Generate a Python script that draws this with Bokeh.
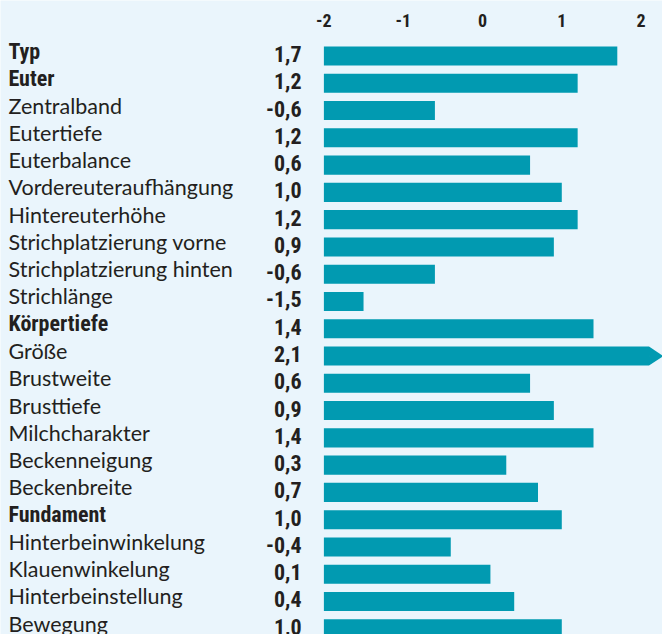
from bokeh.plotting import figure
from bokeh.models import Range1d, ColumnDataSource
from bokeh.core.properties import value
from bokeh.embed import file_html
from bokeh.resources import INLINE

traits = ["Typ", "Euter", "Zentralband", "Eutertiefe", "Euterbalance",
          "Vordereuteraufhängung", "Hintereuterhöhe", "Strichplatzierung vorne",
          "Strichplatzierung hinten", "Strichlänge", "Körpertiefe", "Größe",
          "Brustweite", "Brusttiefe", "Milchcharakter", "Beckenneigung",
          "Beckenbreite", "Fundament", "Hinterbeinwinkelung", "Klauenwinkelung",
          "Hinterbeinstellung", "Bewegung"]
scores = [1.7, 1.2, -0.6, 1.2, 0.6, 1.0, 1.2, 0.9, -0.6, -1.5, 1.4, 2.1,
          0.6, 0.9, 1.4, 0.3, 0.7, 1.0, -0.4, 0.1, 0.4, 1.0]
bold_traits = ["Typ", "Euter", "Körpertiefe", "Fundament"]
tick_values = [-2, -1, 0, 1, 2]
tick_labels = ["-2", "-1", "0", "1", "2"]

BG = "#eaf5fc"
BAR = "#019ab1"
INK = "#231f20"
COND = "'Noto Sans Condensed', 'Roboto Condensed', 'DejaVu Sans Condensed', 'Liberation Sans Narrow', Roboto"
REG = "Lato"

AX_MIN, AX_MAX = -2.0, 2.0
X0, X1 = -6.078, 2.270
LABEL_X = -5.977
VALUE_X = -2.282

idx = list(range(len(traits)))
fmt = [f"{v:.1f}".replace(".", ",") for v in scores]
is_bold = [t in bold_traits for t in traits]

p = figure(width=662, height=634, x_range=Range1d(X0, X1),
           y_range=Range1d(21.21, -2.035), output_backend="svg",
           toolbar_location=None, min_border=0)
p.axis.visible = False
p.grid.visible = False
p.outline_line_color = None
p.background_fill_color = BG
p.border_fill_color = BG

p.hbar(y=idx, left=AX_MIN, right=scores, height=0.7, fill_color=BAR, line_color=None)

# overflow arrows for values beyond the axis maximum
ax_x, ax_y = [], []
for i, v in zip(idx, scores):
    if v > AX_MAX:
        ax_x.append([v, v + 0.18, v])
        ax_y.append([i - 0.35, i, i + 0.35])
if ax_x:
    p.patches(xs=ax_x, ys=ax_y, fill_color=BAR, line_color=None)

reg = ColumnDataSource(dict(x=[LABEL_X] * sum(not b for b in is_bold),
                            y=[i for i, b in zip(idx, is_bold) if not b],
                            t=[t for t, b in zip(traits, is_bold) if not b]))
bld = ColumnDataSource(dict(x=[LABEL_X] * sum(is_bold),
                            y=[i for i, b in zip(idx, is_bold) if b],
                            t=[t for t, b in zip(traits, is_bold) if b]))
p.text(x="x", y="y", text="t", source=reg, text_font=value(REG),
       text_font_size="21.5px", text_color=INK, text_baseline="alphabetic",
       text_align="left", y_offset=-5)
p.text(x="x", y="y", text="t", source=bld, text_font=value(COND),
       text_font_style="bold", text_font_size="22px", text_color=INK,
       text_baseline="alphabetic", text_align="left", y_offset=-5)

p.text(x=[VALUE_X] * len(idx), y=idx, text=fmt, text_font=value(COND),
       text_font_style="bold", text_font_size="22px", text_color=INK,
       text_baseline="alphabetic", text_align="right", y_offset=-2)

p.text(x=tick_values, y=[-1.082] * len(tick_values), text=tick_labels,
       text_font=value(COND), text_font_style="bold", text_font_size="18px",
       text_color=INK, text_baseline="alphabetic", text_align="center",
       y_offset=-6)

open("out.html", "w").write(file_html(p, INLINE))
